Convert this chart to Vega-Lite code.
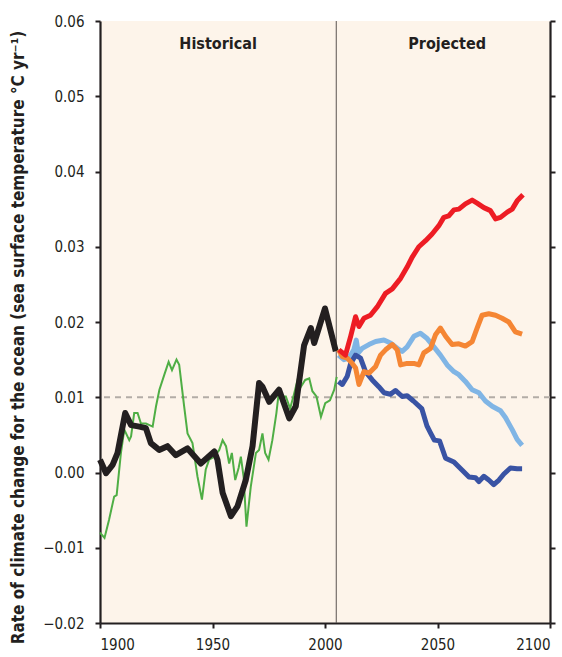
{
  "$schema": "https://vega.github.io/schema/vega-lite/v6.json",
  "width": 450,
  "height": 602,
  "autosize": "none",
  "padding": {"left": 100, "top": 21, "right": 12, "bottom": 34},
  "background": "white",
  "config": {
    "view": {"fill": "#fdf4ea", "stroke": null},
    "font": "'DejaVu Sans Condensed', 'DejaVu Sans', sans-serif",
    "axis": {
      "domainColor": "#231f20", "domainWidth": 2.2,
      "tickColor": "#231f20", "tickWidth": 2, "tickSize": 5,
      "labelColor": "#231f20", "labelFontSize": 15,
      "labelFont": "'DejaVu Sans Condensed', 'DejaVu Sans', sans-serif",
      "grid": false
    }
  },
  "datasets": {
    "series": [
      {"s": "green", "year": 1900, "v": -0.008},
      {"s": "green", "year": 1902, "v": -0.0087},
      {"s": "green", "year": 1904, "v": -0.0063},
      {"s": "green", "year": 1906.3, "v": -0.0032},
      {"s": "green", "year": 1907.4, "v": -0.003},
      {"s": "green", "year": 1909.3, "v": 0.0026},
      {"s": "green", "year": 1910.8, "v": 0.0057},
      {"s": "green", "year": 1913, "v": 0.0043},
      {"s": "green", "year": 1913.8, "v": 0.0048},
      {"s": "green", "year": 1915.2, "v": 0.0079},
      {"s": "green", "year": 1916.7, "v": 0.0079},
      {"s": "green", "year": 1918.2, "v": 0.0065},
      {"s": "green", "year": 1920.4, "v": 0.0065},
      {"s": "green", "year": 1922, "v": 0.0063},
      {"s": "green", "year": 1923.4, "v": 0.0061},
      {"s": "green", "year": 1924.9, "v": 0.0088},
      {"s": "green", "year": 1926.4, "v": 0.011},
      {"s": "green", "year": 1928.6, "v": 0.013},
      {"s": "green", "year": 1930.5, "v": 0.0147},
      {"s": "green", "year": 1932, "v": 0.0136},
      {"s": "green", "year": 1934, "v": 0.015},
      {"s": "green", "year": 1935.2, "v": 0.0143},
      {"s": "green", "year": 1937.4, "v": 0.0088},
      {"s": "green", "year": 1938.9, "v": 0.0052},
      {"s": "green", "year": 1941.1, "v": 0.0039},
      {"s": "green", "year": 1943.3, "v": -0.0005},
      {"s": "green", "year": 1945.3, "v": -0.0036},
      {"s": "green", "year": 1947, "v": 0.0004},
      {"s": "green", "year": 1948.5, "v": 0.0017},
      {"s": "green", "year": 1950.8, "v": 0.0021},
      {"s": "green", "year": 1953, "v": 0.003},
      {"s": "green", "year": 1954.5, "v": 0.0043},
      {"s": "green", "year": 1956, "v": 0.0035},
      {"s": "green", "year": 1957.4, "v": 0.0012},
      {"s": "green", "year": 1958.6, "v": 0.0026},
      {"s": "green", "year": 1960.1, "v": -0.001},
      {"s": "green", "year": 1961.6, "v": 0.0006},
      {"s": "green", "year": 1962.6, "v": 0.0021},
      {"s": "green", "year": 1963.8, "v": -0.0005},
      {"s": "green", "year": 1965.1, "v": -0.0072},
      {"s": "green", "year": 1967, "v": -0.0019},
      {"s": "green", "year": 1969.3, "v": 0.0026},
      {"s": "green", "year": 1970.7, "v": 0.003},
      {"s": "green", "year": 1972.2, "v": 0.0052},
      {"s": "green", "year": 1973.4, "v": 0.0026},
      {"s": "green", "year": 1974.9, "v": 0.0017},
      {"s": "green", "year": 1976.6, "v": 0.0043},
      {"s": "green", "year": 1978.4, "v": 0.0079},
      {"s": "green", "year": 1979.6, "v": 0.011},
      {"s": "green", "year": 1981.1, "v": 0.0101},
      {"s": "green", "year": 1982.6, "v": 0.0101},
      {"s": "green", "year": 1984.5, "v": 0.0085},
      {"s": "green", "year": 1986.3, "v": 0.0105},
      {"s": "green", "year": 1987.8, "v": 0.0123},
      {"s": "green", "year": 1989.3, "v": 0.0114},
      {"s": "green", "year": 1991.2, "v": 0.0123},
      {"s": "green", "year": 1993, "v": 0.0125},
      {"s": "green", "year": 1994.4, "v": 0.0108},
      {"s": "green", "year": 1996.2, "v": 0.0101},
      {"s": "green", "year": 1998.2, "v": 0.0074},
      {"s": "green", "year": 2000.1, "v": 0.0092},
      {"s": "green", "year": 2002.2, "v": 0.0096},
      {"s": "green", "year": 2004.1, "v": 0.011},
      {"s": "green", "year": 2005.2, "v": 0.0127},

      {"s": "black", "year": 1900, "v": 0.0017},
      {"s": "black", "year": 1902.7, "v": -0.0001},
      {"s": "black", "year": 1905.6, "v": 0.001},
      {"s": "black", "year": 1907.8, "v": 0.0026},
      {"s": "black", "year": 1911.2, "v": 0.0079},
      {"s": "black", "year": 1913.8, "v": 0.0063},
      {"s": "black", "year": 1917.5, "v": 0.0061},
      {"s": "black", "year": 1920.4, "v": 0.0059},
      {"s": "black", "year": 1922.6, "v": 0.0039},
      {"s": "black", "year": 1926.3, "v": 0.003},
      {"s": "black", "year": 1930, "v": 0.0035},
      {"s": "black", "year": 1933.7, "v": 0.0023},
      {"s": "black", "year": 1938.9, "v": 0.0032},
      {"s": "black", "year": 1944.8, "v": 0.0012},
      {"s": "black", "year": 1950.8, "v": 0.0028},
      {"s": "black", "year": 1952.2, "v": 0.0017},
      {"s": "black", "year": 1954.5, "v": -0.0027},
      {"s": "black", "year": 1958.2, "v": -0.0058},
      {"s": "black", "year": 1961.1, "v": -0.0045},
      {"s": "black", "year": 1964.8, "v": -0.001},
      {"s": "black", "year": 1967.8, "v": 0.0035},
      {"s": "black", "year": 1970.7, "v": 0.0119},
      {"s": "black", "year": 1972.2, "v": 0.0114},
      {"s": "black", "year": 1975.2, "v": 0.0094},
      {"s": "black", "year": 1979.6, "v": 0.011},
      {"s": "black", "year": 1984.1, "v": 0.0072},
      {"s": "black", "year": 1987, "v": 0.0088},
      {"s": "black", "year": 1990.7, "v": 0.0169},
      {"s": "black", "year": 1993.7, "v": 0.0192},
      {"s": "black", "year": 1995.2, "v": 0.0172},
      {"s": "black", "year": 2000, "v": 0.0218},
      {"s": "black", "year": 2004.8, "v": 0.0161},

      {"s": "lightblue", "year": 2006, "v": 0.0156},
      {"s": "lightblue", "year": 2008.4, "v": 0.015},
      {"s": "lightblue", "year": 2010.6, "v": 0.0152},
      {"s": "lightblue", "year": 2012.8, "v": 0.0163},
      {"s": "lightblue", "year": 2013.9, "v": 0.0176},
      {"s": "lightblue", "year": 2014.8, "v": 0.0159},
      {"s": "lightblue", "year": 2016.5, "v": 0.0165},
      {"s": "lightblue", "year": 2019.5, "v": 0.017},
      {"s": "lightblue", "year": 2022.5, "v": 0.0174},
      {"s": "lightblue", "year": 2026.2, "v": 0.0176},
      {"s": "lightblue", "year": 2029.1, "v": 0.0172},
      {"s": "lightblue", "year": 2032.1, "v": 0.0165},
      {"s": "lightblue", "year": 2034.3, "v": 0.0161},
      {"s": "lightblue", "year": 2036.5, "v": 0.0167},
      {"s": "lightblue", "year": 2039.5, "v": 0.0181},
      {"s": "lightblue", "year": 2042.4, "v": 0.0185},
      {"s": "lightblue", "year": 2045.4, "v": 0.0178},
      {"s": "lightblue", "year": 2048.4, "v": 0.0167},
      {"s": "lightblue", "year": 2051.3, "v": 0.0156},
      {"s": "lightblue", "year": 2054.3, "v": 0.0143},
      {"s": "lightblue", "year": 2057.3, "v": 0.0134},
      {"s": "lightblue", "year": 2059.5, "v": 0.013},
      {"s": "lightblue", "year": 2062.4, "v": 0.0121},
      {"s": "lightblue", "year": 2065.4, "v": 0.011},
      {"s": "lightblue", "year": 2068.4, "v": 0.0106},
      {"s": "lightblue", "year": 2071.3, "v": 0.0095},
      {"s": "lightblue", "year": 2074.3, "v": 0.0088},
      {"s": "lightblue", "year": 2078, "v": 0.0082},
      {"s": "lightblue", "year": 2080.2, "v": 0.0073},
      {"s": "lightblue", "year": 2083.2, "v": 0.0057},
      {"s": "lightblue", "year": 2085.4, "v": 0.0044},
      {"s": "lightblue", "year": 2087.6, "v": 0.0036},

      {"s": "darkblue", "year": 2006, "v": 0.0121},
      {"s": "darkblue", "year": 2007.7, "v": 0.0117},
      {"s": "darkblue", "year": 2009.9, "v": 0.0128},
      {"s": "darkblue", "year": 2011.4, "v": 0.0145},
      {"s": "darkblue", "year": 2013.6, "v": 0.0156},
      {"s": "darkblue", "year": 2015.8, "v": 0.0152},
      {"s": "darkblue", "year": 2018, "v": 0.0134},
      {"s": "darkblue", "year": 2021, "v": 0.0123},
      {"s": "darkblue", "year": 2023.9, "v": 0.0114},
      {"s": "darkblue", "year": 2026.2, "v": 0.0106},
      {"s": "darkblue", "year": 2029.1, "v": 0.0104},
      {"s": "darkblue", "year": 2031.3, "v": 0.0109},
      {"s": "darkblue", "year": 2034.3, "v": 0.0101},
      {"s": "darkblue", "year": 2036.5, "v": 0.0102},
      {"s": "darkblue", "year": 2039.3, "v": 0.0095},
      {"s": "darkblue", "year": 2043, "v": 0.0085},
      {"s": "darkblue", "year": 2045.3, "v": 0.0062},
      {"s": "darkblue", "year": 2047, "v": 0.0052},
      {"s": "darkblue", "year": 2048.6, "v": 0.0043},
      {"s": "darkblue", "year": 2050.9, "v": 0.0042},
      {"s": "darkblue", "year": 2053.6, "v": 0.0019},
      {"s": "darkblue", "year": 2057.3, "v": 0.0014},
      {"s": "darkblue", "year": 2061, "v": 0.0003},
      {"s": "darkblue", "year": 2064, "v": -0.0006},
      {"s": "darkblue", "year": 2066.9, "v": -0.0007},
      {"s": "darkblue", "year": 2068.4, "v": -0.0012},
      {"s": "darkblue", "year": 2070.6, "v": -0.0005},
      {"s": "darkblue", "year": 2072.8, "v": -0.001},
      {"s": "darkblue", "year": 2075, "v": -0.0016},
      {"s": "darkblue", "year": 2077.3, "v": -0.001},
      {"s": "darkblue", "year": 2079.5, "v": -0.0002},
      {"s": "darkblue", "year": 2082.4, "v": 0.0006},
      {"s": "darkblue", "year": 2085.4, "v": 0.0005},
      {"s": "darkblue", "year": 2087.6, "v": 0.0005},

      {"s": "orange", "year": 2006, "v": 0.0163},
      {"s": "orange", "year": 2007.7, "v": 0.0154},
      {"s": "orange", "year": 2009.9, "v": 0.0152},
      {"s": "orange", "year": 2012.1, "v": 0.0145},
      {"s": "orange", "year": 2013.6, "v": 0.0139},
      {"s": "orange", "year": 2015.1, "v": 0.0117},
      {"s": "orange", "year": 2017.3, "v": 0.0134},
      {"s": "orange", "year": 2019.5, "v": 0.0132},
      {"s": "orange", "year": 2022.5, "v": 0.0141},
      {"s": "orange", "year": 2024.7, "v": 0.0156},
      {"s": "orange", "year": 2026.9, "v": 0.0163},
      {"s": "orange", "year": 2029.9, "v": 0.017},
      {"s": "orange", "year": 2032.1, "v": 0.0163},
      {"s": "orange", "year": 2033.6, "v": 0.0143},
      {"s": "orange", "year": 2036.5, "v": 0.0145},
      {"s": "orange", "year": 2039.5, "v": 0.0145},
      {"s": "orange", "year": 2041.7, "v": 0.0143},
      {"s": "orange", "year": 2043.9, "v": 0.0159},
      {"s": "orange", "year": 2046.9, "v": 0.0165},
      {"s": "orange", "year": 2049.1, "v": 0.0183},
      {"s": "orange", "year": 2051.3, "v": 0.0192},
      {"s": "orange", "year": 2053.6, "v": 0.0181},
      {"s": "orange", "year": 2056.5, "v": 0.017},
      {"s": "orange", "year": 2059.5, "v": 0.0171},
      {"s": "orange", "year": 2062.4, "v": 0.0168},
      {"s": "orange", "year": 2065.4, "v": 0.0174},
      {"s": "orange", "year": 2067.6, "v": 0.0192},
      {"s": "orange", "year": 2069.8, "v": 0.0209},
      {"s": "orange", "year": 2072.8, "v": 0.0211},
      {"s": "orange", "year": 2075.8, "v": 0.0209},
      {"s": "orange", "year": 2078.7, "v": 0.0205},
      {"s": "orange", "year": 2081.7, "v": 0.02},
      {"s": "orange", "year": 2084.6, "v": 0.0187},
      {"s": "orange", "year": 2087.6, "v": 0.0184},

      {"s": "red", "year": 2006.2, "v": 0.0163},
      {"s": "red", "year": 2009.1, "v": 0.0156},
      {"s": "red", "year": 2011.4, "v": 0.0181},
      {"s": "red", "year": 2013.6, "v": 0.0207},
      {"s": "red", "year": 2015.1, "v": 0.0194},
      {"s": "red", "year": 2017.3, "v": 0.0205},
      {"s": "red", "year": 2020.2, "v": 0.0209},
      {"s": "red", "year": 2023.2, "v": 0.022},
      {"s": "red", "year": 2026.9, "v": 0.0238},
      {"s": "red", "year": 2029.9, "v": 0.0244},
      {"s": "red", "year": 2033.6, "v": 0.0258},
      {"s": "red", "year": 2036.5, "v": 0.0273},
      {"s": "red", "year": 2038.7, "v": 0.0286},
      {"s": "red", "year": 2041.7, "v": 0.03},
      {"s": "red", "year": 2044.7, "v": 0.0308},
      {"s": "red", "year": 2047.6, "v": 0.0317},
      {"s": "red", "year": 2050.6, "v": 0.0328},
      {"s": "red", "year": 2052.8, "v": 0.0339},
      {"s": "red", "year": 2055, "v": 0.0341},
      {"s": "red", "year": 2057.3, "v": 0.0349},
      {"s": "red", "year": 2059.5, "v": 0.035},
      {"s": "red", "year": 2062.4, "v": 0.0357},
      {"s": "red", "year": 2065.4, "v": 0.0362},
      {"s": "red", "year": 2067.6, "v": 0.0358},
      {"s": "red", "year": 2070.6, "v": 0.0352},
      {"s": "red", "year": 2073.5, "v": 0.0348},
      {"s": "red", "year": 2075.8, "v": 0.0337},
      {"s": "red", "year": 2078, "v": 0.0339},
      {"s": "red", "year": 2081, "v": 0.0346},
      {"s": "red", "year": 2083.2, "v": 0.035},
      {"s": "red", "year": 2085.4, "v": 0.0361},
      {"s": "red", "year": 2088, "v": 0.0369}
    ]
  },
  "layer": [
    {
      "data": {"values": [{"v": 0.01}]},
      "mark": {"type": "rule", "color": "#b3aca6", "strokeWidth": 2, "strokeDash": [6, 5]},
      "encoding": {
        "y": {"field": "v", "type": "quantitative", "scale": {"domain": [-0.02, 0.06], "nice": false, "zero": false},
          "axis": {"values": [-0.02, -0.01, 0, 0.01, 0.02, 0.03, 0.04, 0.05, 0.06], "format": ".2f", "labelPadding": 11,
            "title": "Rate of climate change for the ocean (sea surface temperature °C yr⁻¹)",
            "titleFontSize": 17, "titleFontWeight": "bold", "titleColor": "#231f20",
            "titleFont": "'DejaVu Sans Condensed', 'DejaVu Sans', sans-serif",
            "titleAngle": -90, "titleX": -82, "titleY": 316, "titleAlign": "center", "titleBaseline": "middle"}}
      }
    },
    {
      "data": {"values": [{"year": 2005}]},
      "mark": {"type": "rule", "color": "#5a5350", "strokeWidth": 1},
      "encoding": {
        "x": {"field": "year", "type": "quantitative", "scale": {"domain": [1900, 2100], "nice": false, "zero": false},
          "axis": {"values": [1900, 1950, 2000, 2050, 2100], "format": "d", "labelPadding": 9, "title": null}}
      }
    },
    {
      "data": {"name": "series"},
      "transform": [{"filter": "datum.s === 'green'"}],
      "mark": {"type": "line", "color": "#4fae45", "strokeWidth": 2},
      "encoding": {"x": {"field": "year", "type": "quantitative"}, "y": {"field": "v", "type": "quantitative", "axis": null}}
    },
    {
      "data": {"name": "series"},
      "transform": [{"filter": "datum.s === 'black'"}],
      "mark": {"type": "line", "color": "#231f20", "strokeWidth": 6, "strokeJoin": "round"},
      "encoding": {"x": {"field": "year", "type": "quantitative"}, "y": {"field": "v", "type": "quantitative", "axis": null}}
    },
    {
      "data": {"name": "series"},
      "transform": [{"filter": "datum.s === 'lightblue'"}],
      "mark": {"type": "line", "color": "#80b5e5", "strokeWidth": 5, "strokeJoin": "round"},
      "encoding": {"x": {"field": "year", "type": "quantitative"}, "y": {"field": "v", "type": "quantitative", "axis": null}}
    },
    {
      "data": {"name": "series"},
      "transform": [{"filter": "datum.s === 'darkblue'"}],
      "mark": {"type": "line", "color": "#3953a4", "strokeWidth": 5, "strokeJoin": "round"},
      "encoding": {"x": {"field": "year", "type": "quantitative"}, "y": {"field": "v", "type": "quantitative", "axis": null}}
    },
    {
      "data": {"name": "series"},
      "transform": [{"filter": "datum.s === 'orange'"}],
      "mark": {"type": "line", "color": "#f58634", "strokeWidth": 5, "strokeJoin": "round"},
      "encoding": {"x": {"field": "year", "type": "quantitative"}, "y": {"field": "v", "type": "quantitative", "axis": null}}
    },
    {
      "data": {"name": "series"},
      "transform": [{"filter": "datum.s === 'red'"}],
      "mark": {"type": "line", "color": "#ed1c24", "strokeWidth": 5, "strokeJoin": "round"},
      "encoding": {"x": {"field": "year", "type": "quantitative"}, "y": {"field": "v", "type": "quantitative", "axis": null}}
    },
    {
      "data": {"values": [{"label": "Historical", "year": 1952.5, "v": 0.0569}, {"label": "Projected", "year": 2054.3, "v": 0.0569}]},
      "mark": {"type": "text", "fontSize": 16, "fontWeight": "bold", "color": "#231f20", "align": "center", "baseline": "middle"},
      "encoding": {
        "x": {"field": "year", "type": "quantitative"},
        "y": {"field": "v", "type": "quantitative", "axis": null},
        "text": {"field": "label"}
      }
    },
    {
      "data": {"values": [{"v": 0.06}]},
      "mark": {"type": "rule", "opacity": 0},
      "encoding": {
        "y": {"field": "v", "type": "quantitative",
          "axis": {"orient": "right", "values": [-0.02, -0.01, 0, 0.01, 0.02, 0.03, 0.04, 0.05, 0.06], "labels": false, "title": null}}
      }
    }
  ],
  "resolve": {"axis": {"y": "independent"}}
}
